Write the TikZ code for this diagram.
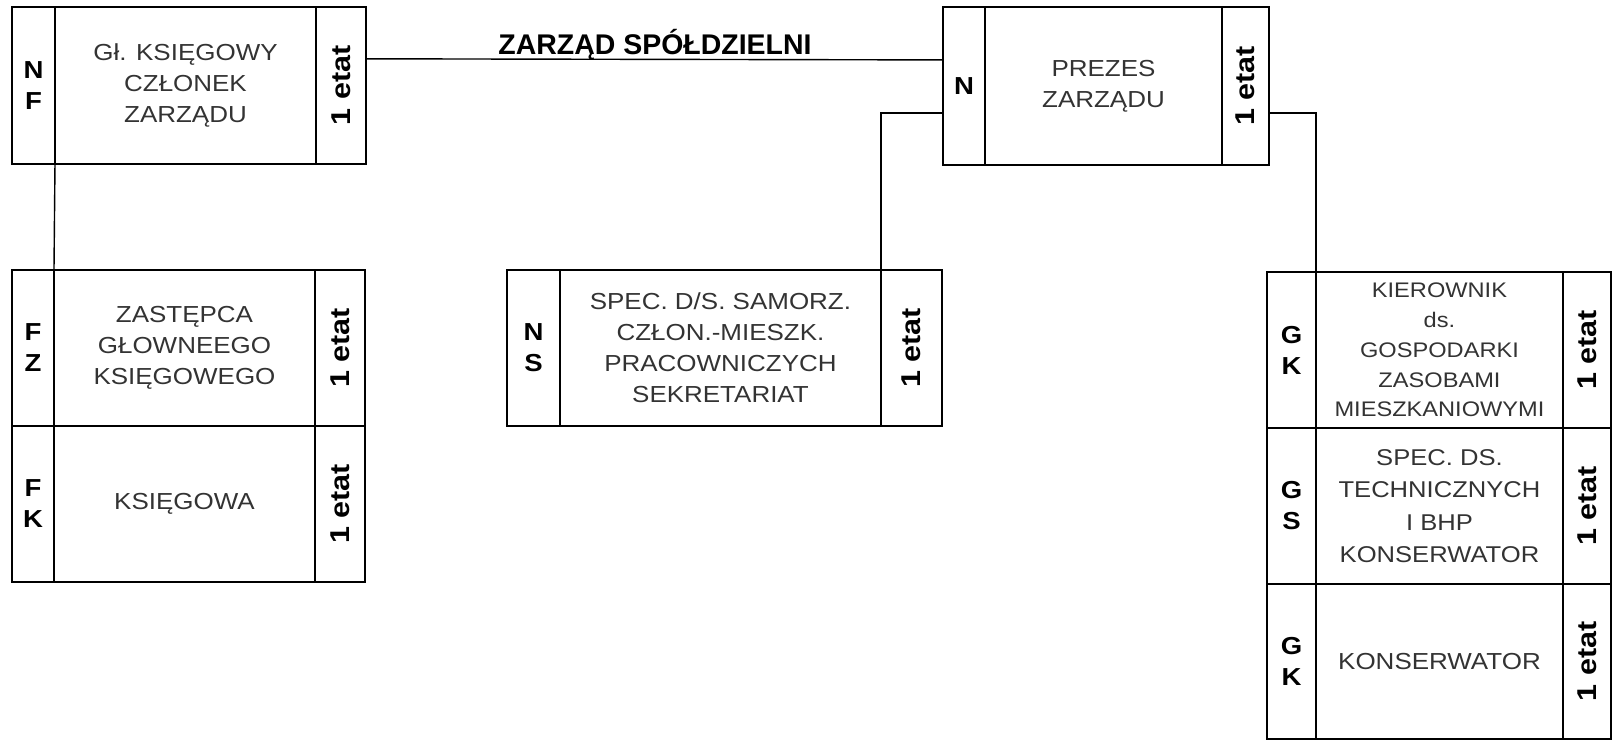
\documentclass[tikz,border=0pt]{standalone}
\usepackage{fontspec}
\setmainfont{Liberation Sans}[FakeStretch=1.12]
\newfontfamily\tytulfont{Liberation Sans}
\usetikzlibrary{calc,positioning}

\tikzset{
  kom/.style={draw, line width=0.8pt, inner sep=0pt, outer sep=0pt, anchor=north west},
  kod/.style={kom, align=center, font=\bfseries\fontsize{14}{17.6}\selectfont},
  opis/.style={kom, align=center, text=black!80, font=\fontsize{13.2}{17.6}\selectfont},
  etat/.style={kom, font=\bfseries\fontsize{15.5}{19}\selectfont},
  linia/.style={line width=0.8pt},
  tytul/.style={anchor=base, font=\tytulfont\bfseries\fontsize{16.2}{19}\selectfont}
}

\begin{document}
\begin{tikzpicture}[x=0.02cm, y=-0.02cm]
        \useasboundingbox (0,0) rectangle (1613,741);

        % Glowny ksiegowy
        \node[kod, minimum width=0.86cm, minimum height=3.14cm] (nfK) at (12,7) {N\\F};
        \node[opis, minimum width=5.22cm, minimum height=3.14cm, right=0pt of nfK] (nf) {Gł. KSIĘGOWY\\CZŁONEK\\ZARZĄDU};
        \node[etat, minimum width=1.0cm, minimum height=3.14cm, right=0pt of nf] (nfE) {\rotatebox{90}{1 etat}};

        % Prezes
        \node[kod, minimum width=0.84cm, minimum height=3.16cm] (prK) at (943,7) {N};
        \node[opis, minimum width=4.74cm, minimum height=3.16cm, right=0pt of prK] (pr) {PREZES\\ZARZĄDU};
        \node[etat, minimum width=0.94cm, minimum height=3.16cm, right=0pt of pr] (prE) {\rotatebox{90}{1 etat}};

        % Zarzad
        \node[tytul] (zarzad) at (655,54) {ZARZĄD SPÓŁDZIELNI};
        \draw[linia] ($(nfE.north east)!0.33!(nfE.south east)$) -- ($(prK.north west)!0.335!(prK.south west)$);

        % Ksiegowosc
        \node[kod, minimum width=0.84cm, minimum height=3.12cm] (fzK) at (12,270) {F\\Z};
        \node[opis, minimum width=5.22cm, minimum height=3.12cm, right=0pt of fzK] (fz) {ZASTĘPCA\\GŁOWNEEGO\\KSIĘGOWEGO};
        \node[etat, minimum width=1.0cm, minimum height=3.12cm, right=0pt of fz] (fzE) {\rotatebox{90}{1 etat}};
        \node[kod, minimum width=0.84cm, minimum height=3.12cm, below=0pt of fzK] (fkK) {F\\K};
        \node[opis, minimum width=5.22cm, minimum height=3.12cm, right=0pt of fkK] (fk) {KSIĘGOWA};
        \node[etat, minimum width=1.0cm, minimum height=3.12cm, right=0pt of fk] (fkE) {\rotatebox{90}{1 etat}};
        \draw[linia] (nf.south west) -- (fz.north west);

        % Sekretariat
        \node[kod, minimum width=1.06cm, minimum height=3.12cm] (nsK) at (507,270) {N\\S};
        \node[opis, minimum width=6.42cm, minimum height=3.12cm, right=0pt of nsK] (ns) {SPEC. D/S. SAMORZ.\\CZŁON.-MIESZK.\\PRACOWNICZYCH\\SEKRETARIAT};
        \node[etat, minimum width=1.22cm, minimum height=3.12cm, right=0pt of ns] (nsE) {\rotatebox{90}{1 etat}};
        \draw[linia] ($(prK.north west)!0.67!(prK.south west)$) -| (ns.north east);

        % Gospodarka zasobami
        \node[kod, minimum width=0.98cm, minimum height=3.12cm] (gkK) at (1267,272) {G\\K};
        \node[opis, minimum width=4.94cm, minimum height=3.12cm, right=0pt of gkK, font=\fontsize{12}{17}\selectfont] (gk) {KIEROWNIK\\ds.\\GOSPODARKI\\ZASOBAMI\\MIESZKANIOWYMI};
        \node[etat, minimum width=0.96cm, minimum height=3.12cm, right=0pt of gk] (gkE) {\rotatebox{90}{1 etat}};
        \node[kod, minimum width=0.98cm, minimum height=3.12cm, below=0pt of gkK] (gsK) {G\\S};
        \node[opis, minimum width=4.94cm, minimum height=3.12cm, right=0pt of gsK, font=\fontsize{13}{18.5}\selectfont] (gs) {SPEC. DS.\\TECHNICZNYCH\\I BHP\\KONSERWATOR};
        \node[etat, minimum width=0.96cm, minimum height=3.12cm, right=0pt of gs] (gsE) {\rotatebox{90}{1 etat}};
        \node[kod, minimum width=0.98cm, minimum height=3.10cm, below=0pt of gsK] (gkoK) {G\\K};
        \node[opis, minimum width=4.94cm, minimum height=3.10cm, right=0pt of gkoK] (gko) {KONSERWATOR};
        \node[etat, minimum width=0.96cm, minimum height=3.10cm, right=0pt of gko] (gkoE) {\rotatebox{90}{1 etat}};
        \draw[linia] ($(prE.north east)!0.67!(prE.south east)$) -| (gk.north west);
\end{tikzpicture}
\end{document}
